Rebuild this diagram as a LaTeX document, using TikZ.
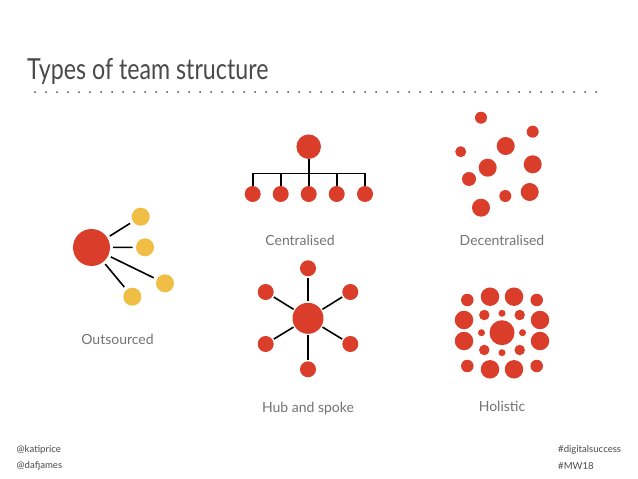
\documentclass[tikz,border=0pt]{standalone}
\usepackage{fontspec}
\setmainfont{Lato}
\newfontfamily\titlefont[FakeStretch=0.8]{Lato}
\definecolor{teamred}{HTML}{DA3D2A}
\definecolor{teamyellow}{HTML}{F0BD45}
\definecolor{labelgray}{HTML}{747474}
\definecolor{titlegray}{HTML}{4A4A4A}
\begin{document}
\begin{tikzpicture}[x=1pt, y=-1pt,
    dot/.style={circle, fill=teamred, inner sep=0pt, minimum size=#1},
    ydot/.style={circle, fill=teamyellow, inner sep=0pt, minimum size=#1},
    link/.style={line width=1.6pt, black},
    lbl/.style={text=labelgray, font=\fontsize{14}{16}\selectfont, inner sep=0pt},
    foot/.style={text=titlegray, font=\fontsize{9.6}{12}\selectfont, inner sep=0pt, anchor=west}]
    \useasboundingbox[fill=white] (0,0) rectangle (638,479);
    \node[anchor=base west, inner sep=0pt, text=titlegray, font=\titlefont\fontsize{29}{32}\selectfont] (title) at (27,79) {Types of team structure};
    \foreach \i in {0,...,51} \fill[titlegray] (35+\i*11,92) circle (1pt);
    % outsourced
    \node[dot=37pt, outer sep=3pt] (os) at (91.5,247.5) {};
    \node[ydot=18pt, outer sep=3.5pt] (os1) at (140.7,216.7) {};
    \node[ydot=18pt, outer sep=3.5pt] (os2) at (145,247.3) {};
    \node[ydot=18pt, outer sep=3.5pt] (os3) at (165,283.3) {};
    \node[ydot=18pt, outer sep=3.5pt] (os4) at (132.3,296.7) {};
    \foreach \t in {os1,os2,os3,os4} \draw[link] (os) -- (\t);
    \node[lbl] (oslbl) at (117.5,339) {Outsourced};
    % centralised
    \node[dot=24.5pt] (ctop) at (308.7,146.7) {};
    \foreach \n/\x in {c1/252.7,c2/280.7,c3/308.7,c4/336.7,c5/365} {
        \node[dot=16pt] (\n) at (\x,194) {};
        \coordinate (\n j) at (\x,173.3);
    }
    \draw[link] (ctop) -- (c3j);
    \draw[link, line cap=rect] (c1j) -- (c5j);
    \foreach \n in {c1,c2,c3,c4,c5} \draw[link] (\n j) -- (\n);
    \node[lbl] (clbl) at (300,240) {Centralised};
    % decentralised
    \node[dot=12pt] (d1) at (481,117.7) {};
    \node[dot=12pt] (d2) at (532.7,131.7) {};
    \node[dot=11pt] (d3) at (460.7,151.7) {};
    \node[dot=18pt] (d4) at (505.7,146) {};
    \node[dot=18pt] (d5) at (487.7,167.7) {};
    \node[dot=18pt] (d6) at (532.7,164.3) {};
    \node[dot=14pt] (d7) at (469,179) {};
    \node[dot=12pt] (d8) at (505.3,196) {};
    \node[dot=18pt] (d9) at (529.7,192) {};
    \node[dot=18pt] (d10) at (481,207.7) {};
    \node[lbl] (dlbl) at (502,240) {Decentralised};
    % hub and spoke
    \node[dot=31pt, outer sep=1.5pt] (hub) at (308,318.3) {};
    \foreach \n/\x/\y in {h1/308/268.3, h2/350.3/292, h3/350.3/344, h4/308/369.3, h5/265.7/344, h6/265.7/292} {
        \node[dot=16pt, outer sep=1.5pt] (\n) at (\x,\y) {};
        \draw[link] (hub) -- (\n);
    }
    \node[lbl] (hlbl) at (308,409) {Hub and spoke};
    % holistic
    \node[dot=25pt] (hc) at (502,332.7) {};
    \foreach \x/\y in {502/313.3, 502/352.7, 481.5/332.7, 522.5/332.7} \node[dot=7pt] at (\x,\y) {};
    \foreach \x/\y in {484.3/315, 519.7/315, 484.3/350, 519.7/350} \node[dot=10.5pt] at (\x,\y) {};
    \foreach \x/\y in {467.3/300, 536.7/300, 467.3/366, 536.7/366} \node[dot=12.5pt] at (\x,\y) {};
    \foreach \x/\y in {490/296.7, 514/296.7, 464/320, 540/320, 464/341, 540/341, 490/369.3, 514/369.3} \node[dot=18.5pt] at (\x,\y) {};
    \node[lbl] (holbl) at (502,406) {Holistic};
    % footer
    \node[foot] (f1) at (16.5,449.5) {@katiprice};
    \node[foot] (f2) at (16.5,466) {@dafjames};
    \node[foot] (f3) at (558,449.5) {\#digitalsuccess};
    \node[foot] (f4) at (558,466) {\#MW18};
\end{tikzpicture}
\end{document}
